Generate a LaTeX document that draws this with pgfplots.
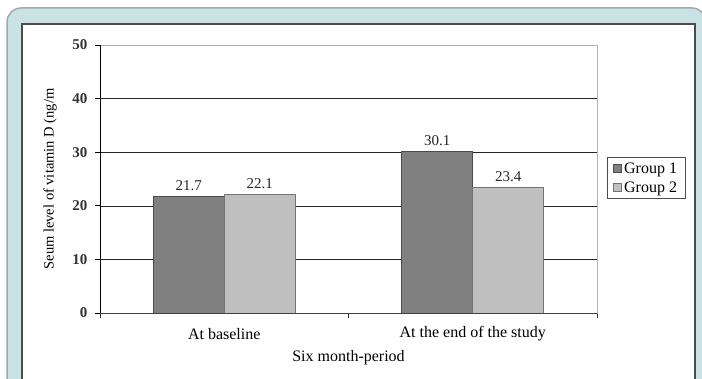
\documentclass[border=0pt]{standalone}
\usepackage{fontspec}
\setmainfont{Liberation Serif}
\usepackage{pgfplots}
\pgfplotsset{compat=1.18}
\definecolor{frameblue}{HTML}{C8E2E5}
\definecolor{framegray}{HTML}{A8A8A8}
\definecolor{barA}{HTML}{808080}
\definecolor{barB}{HTML}{C0C0C0}
\begin{document}
\begin{tikzpicture}[x=1pt,y=1pt]
\useasboundingbox (0,0) rectangle (702,378);
% panel frame
\begin{scope}
\clip (0,0) rectangle (702,378);
\draw[draw=framegray, fill=frameblue, line width=1.5pt, rounded corners=14pt] (7,370) rectangle (706,-40);
\draw[draw=black!70, fill=white, line width=1.2pt] (22,354) rectangle (695,-40);
\end{scope}
\begin{axis}[
  at={(100pt,65pt)}, anchor=south west, scale only axis,
  width=497pt, height=268pt,
  ybar=0pt, bar width=71pt,
  xmin=-0.5, xmax=1.5, ymin=0, ymax=50,
  ytick={0,10,...,50},
  xtick={0,1}, xticklabels={At baseline, At the end of the study},
  xtick pos=bottom, ytick pos=left,
  major x tick style={draw=none},
  minor xtick={-0.5,0.5,1.5},
  minor x tick style={draw=black!80, line width=0.8pt},
  major y tick style={draw=black, line width=0.8pt},
  tick align=outside,
  major tick length=5pt, minor tick length=5pt,
  ymajorgrids, grid style={black!85, line width=0.6pt},
  axis line style={draw=gray!60, line width=0.8pt},
  /pgf/number format/assume math mode=true,
  yticklabel style={font=\fontsize{15}{15}\selectfont\bfseries, text=black!80, xshift=-4pt},
  xticklabel style={font=\fontsize{16}{16}\selectfont, anchor=center, yshift=-16pt},
  xlabel={Six month-period},
  xlabel style={at={(axis description cs:0.5,-0.168)}, anchor=center, font=\fontsize{16}{16}\selectfont},
  ylabel={Seum level of vitamin D (ng/m},
  ylabel style={at={(axis description cs:-0.1006,0.5)}, anchor=center, font=\fontsize{14.5}{14.5}\selectfont},
  nodes near coords,
  every node near coord/.append style={font=\fontsize{15}{15}\selectfont, yshift=2pt, text=black!85,
    /pgf/number format/fixed, /pgf/number format/precision=1, /pgf/number format/fixed zerofill},
  legend style={at={(axis description cs:1.0201,0.582)}, anchor=north west,
    draw=black!70, line width=0.8pt, font=\fontsize{16}{16}\selectfont,
    inner xsep=6pt, inner ysep=3pt, row sep=3pt, cells={anchor=west}},
  legend image code/.code={\draw[#1, line width=0.8pt] (0pt,-3.5pt) rectangle (8pt,4pt);},
]
\addplot[fill=barA, draw=black!70, line width=0.8pt] coordinates {(0,21.7) (1,30.1)};
\addplot[fill=barB, draw=black!55, line width=0.8pt] coordinates {(0,22.1) (1,23.4)};
\legend{Group 1, Group 2}
\draw[black, line width=0.9pt] (rel axis cs:0,0) -- (rel axis cs:0,1);
\draw[black!75, line width=0.9pt] (rel axis cs:0,0) -- (rel axis cs:1,0);
\end{axis}
\end{tikzpicture}
\end{document}
